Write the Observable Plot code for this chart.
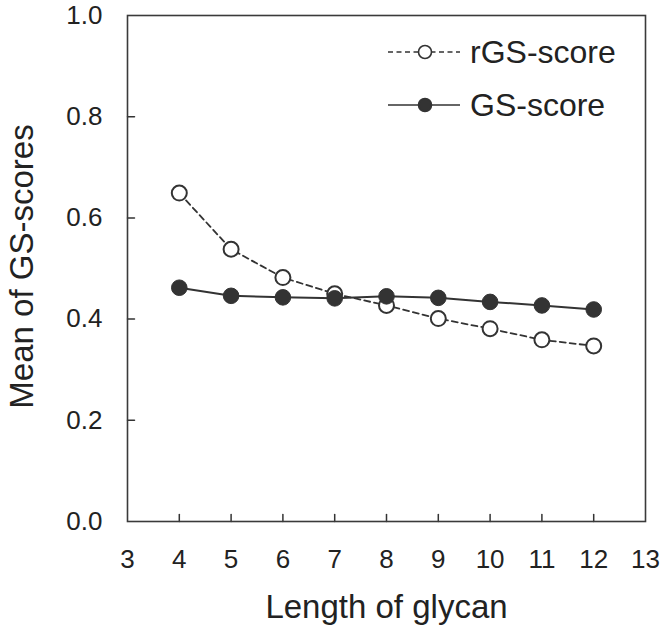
<!DOCTYPE html>
<html>
<head>
<meta charset="utf-8">
<script src="https://cdn.jsdelivr.net/npm/d3@7"></script>
<script src="https://cdn.jsdelivr.net/npm/@observablehq/plot@0.6"></script>
<style>
  html, body { margin: 0; padding: 0; background: #fff; }
  #chart { position: relative; width: 666px; height: 631px; font-family: "Liberation Sans", Arial, sans-serif; }
  #legend { position: absolute; left: 0; top: 0; pointer-events: none; }
</style>
</head>
<body>
<div id="chart"></div>
<script>
// ---- data ----
const lengths = [4, 5, 6, 7, 8, 9, 10, 11, 12];
const rgsScore = [0.649, 0.538, 0.482, 0.450, 0.427, 0.401, 0.381, 0.359, 0.347];
const gsScore  = [0.462, 0.446, 0.443, 0.441, 0.445, 0.442, 0.434, 0.427, 0.419];
const seriesNames = ["rGS-score", "GS-score"];
const xTicks = [3, 4, 5, 6, 7, 8, 9, 10, 11, 12, 13];
const yTicks = [0, 0.2, 0.4, 0.6, 0.8, 1.0];
const xTitle = "Length of glycan";
const yTitle = "Mean of GS-scores";

const rgsData = lengths.map((x, i) => ({x, y: rgsScore[i]}));
const gsData = lengths.map((x, i) => ({x, y: gsScore[i]}));

const ink = "#333";
const textInk = "#222";
const tickShape = {draw(context, l) { context.moveTo(0, 0); context.lineTo(0, -l); }};

const plot = Plot.plot({
  width: 666,
  height: 631,
  marginLeft: 127,
  marginRight: 21,
  marginTop: 15,
  marginBottom: 110,
  style: {fontFamily: "Liberation Sans, Arial, sans-serif", background: "#fff", color: textInk},
  x: {domain: [3, 13]},
  y: {domain: [0, 1]},
  marks: [
    Plot.axisX(xTicks, {tickSize: 0, tickPadding: 28, fontSize: 26, fill: textInk, label: null, tickFormat: d => String(d)}),
    Plot.axisY(yTicks, {tickSize: 0, tickPadding: 25, fontSize: 26, fill: textInk, label: null, tickFormat: d3.format(".1f")}),
    Plot.vector(xTicks.slice(1, -1), {x: d => d, y: 0, length: 7, rotate: 0, anchor: "start", shape: tickShape, stroke: ink, strokeWidth: 1.5}),
    Plot.vector(yTicks.slice(1, -1), {x: 3, y: d => d, length: 7, rotate: 90, anchor: "start", shape: tickShape, stroke: ink, strokeWidth: 1.5}),
    Plot.frame({stroke: "#3a3a3a", strokeWidth: 1.6}),
    Plot.text([xTitle], {frameAnchor: "bottom", dy: 96, lineAnchor: "bottom", textAnchor: "middle", fontSize: 33, fill: textInk}),
    Plot.text([yTitle], {frameAnchor: "left", dx: -95, dy: -2, rotate: -90, lineAnchor: "bottom", textAnchor: "middle", fontSize: 33, fill: textInk}),
    // rGS-score (dashed, open circles)
    Plot.line(rgsData, {x: "x", y: "y", stroke: ink, strokeWidth: 1.8, strokeDasharray: "6,4"}),
    Plot.dot(rgsData, {x: "x", y: "y", r: 7.5, fill: "#fff", stroke: ink, strokeWidth: 2}),
    // GS-score (solid, filled circles)
    Plot.line(gsData, {x: "x", y: "y", stroke: ink, strokeWidth: 2}),
    Plot.dot(gsData, {x: "x", y: "y", r: 7.8, fill: ink, stroke: ink, strokeWidth: 1})
  ]
});

const chart = document.getElementById("chart");
chart.appendChild(plot);

// ---- legend overlay ----
const legend = d3.select(chart).append("svg")
  .attr("id", "legend")
  .attr("width", 666).attr("height", 631);

const legendRows = [
  {name: seriesNames[0], y: 52, dash: "5,3.5", fill: "#fff"},
  {name: seriesNames[1], y: 105, dash: null, fill: ink}
];
legendRows.forEach(row => {
  const g = legend.append("g");
  g.append("line")
    .attr("x1", 388).attr("x2", 460)
    .attr("y1", row.y).attr("y2", row.y)
    .attr("stroke", ink).attr("stroke-width", 1.6)
    .attr("stroke-dasharray", row.dash);
  g.append("circle")
    .attr("cx", 425).attr("cy", row.y).attr("r", 6.5)
    .attr("fill", row.fill).attr("stroke", ink).attr("stroke-width", 1.6);
  g.append("text")
    .attr("x", 470).attr("y", row.y + 11)
    .attr("font-family", "Liberation Sans, Arial, sans-serif")
    .attr("font-size", 32)
    .attr("fill", textInk)
    .text(row.name);
});
</script>
</body>
</html>
